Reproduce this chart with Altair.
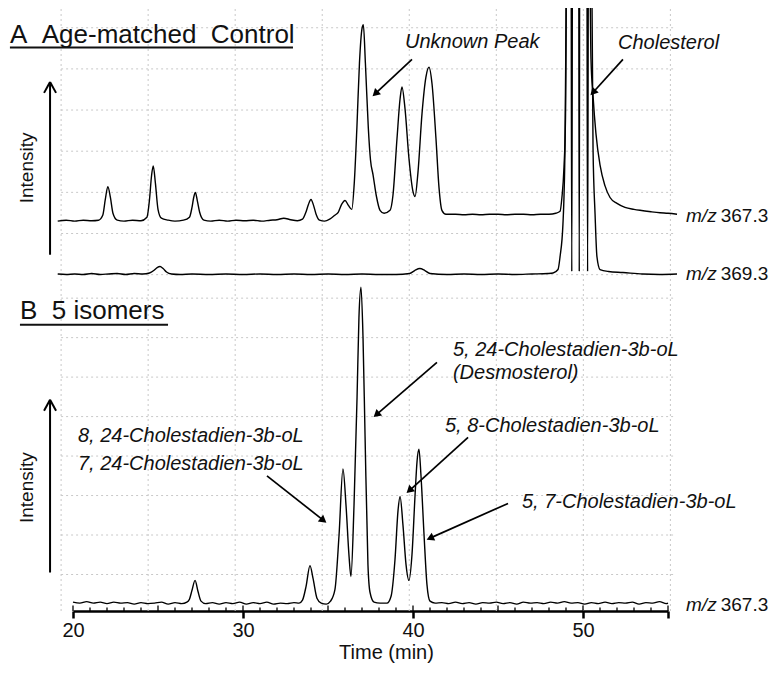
import math
import altair as alt
import pandas as pd

# ---------------- data ----------------
# (retention time in min, intensity above the trace's own baseline, a.u.)
A_367 = [(19.1,0),(19.6,1),(20.1,0),(20.6,1),(21.1,0.5),(21.5,1),(21.75,6),(21.9,22),(22.05,35),(22.2,24),
         (22.35,8),(22.6,1),(23.0,0),(23.5,1),(24.0,0.5),(24.35,4),(24.5,22),(24.62,46),(24.72,56),(24.85,38),
         (25.0,12),(25.2,3),(25.6,1),(26.0,0),(26.5,1),(26.85,4),(27.0,14),(27.1,24),(27.2,29),(27.32,20),
         (27.45,9),(27.7,1),(28.1,0),(28.6,1),(29.1,0),(29.6,1),(30.1,0.5),(30.6,1),(31.1,0),(31.6,1),
         (32.0,1.5),(32.4,3),(32.8,1.5),(33.2,0.5),(33.5,2),(33.7,9),(33.85,17),(34.0,22),(34.15,16),(34.3,7),
         (34.5,1),(34.8,0),(35.1,2),(35.4,6),(35.6,9),(35.8,17),(36.0,21),(36.2,16),(36.4,12),(36.55,40),
         (36.7,95),(36.85,160),(37.0,195),(37.08,199),(37.2,160),(37.37,95),(37.5,62),(37.65,47),(37.85,25),
         (38.06,11),(38.3,8),(38.65,11),(38.82,26),(39.06,84),(39.24,124),(39.35,136),(39.53,114),(39.76,64),
         (40.0,30),(40.12,25),(40.29,49),(40.53,109),(40.76,146),(40.94,156),(41.12,139),(41.35,84),(41.53,34),
         (41.7,11),(41.94,7),(42.5,7),(43.0,6.5),(43.5,7),(44.0,6.5),(44.5,7),(45.0,7),(45.5,6.5),(46.0,7),
         (46.5,7),(47.0,6.5),(47.5,7),(48.0,7),(48.4,8),(48.65,10),(48.76,24),(48.88,54),(48.97,104),
         (49.06,330),(50.35,330),(50.47,164),(50.59,127),(50.76,89),(51.0,57),(51.29,36),(51.59,24),(52.0,18),
         (52.47,14),(53.0,12),(53.35,11),(54.0,9.5),(54.53,8.5),(55.0,8),(55.53,7)]

A_369 = [(19.1,0.5),(19.6,0),(20.1,0.5),(20.6,0),(21.1,1),(21.6,0),(22.1,0.5),(22.6,1),(23.1,0),(23.6,1),
         (24.1,0.5),(24.5,1.5),(24.75,4),(24.95,7),(25.12,8),(25.3,6),(25.5,2.5),(25.8,0.5),(26.3,0),(27.0,0.5),
         (28.0,0),(29.0,0.5),(30.0,0),(31.0,0.5),(32.0,0),(33.0,0.5),(34.0,0),(35.0,0.5),(36.0,0),(37.0,0.5),
         (38.0,0),(39.0,0),(39.8,1),(40.1,4),(40.4,6),(40.7,4),(41.0,1),(42.0,0),(43.0,0.5),(44.0,0),
         (45.0,0.5),(46.0,0),(47.0,0.5),(47.94,1),(48.24,1.5),(48.53,5),(48.65,18),(48.82,51),(48.94,128),
         (49.0,250),(49.05,400),(49.29,400),(49.34,3),(49.39,400),(49.74,400),(49.78,3),(49.81,400),
         (50.22,400),(50.27,3),(50.33,400),(50.47,400),(50.59,128),(50.71,61),(50.82,18),(51.0,5),(51.5,3),
         (52.35,2),(53.5,0.5),(54.5,0),(55.53,0.5)]

B_367 = [(20.0,2),(20.4,1),(20.8,2.5),(21.2,1),(21.6,2),(22.0,0.5),(22.4,2),(22.8,1),(23.2,1.5),(23.6,0),
         (24.0,1.5),(24.4,0.5),(24.8,1),(25.2,2),(25.6,0),(26.0,1.5),(26.4,0.5),(26.7,2),(26.85,5),(27.0,14),
         (27.18,24),(27.35,13),(27.53,3),(27.8,0.5),(28.2,1.5),(28.6,0),(29.0,1.5),(29.4,0.5),(29.8,2),(30.2,0),
         (30.6,1.5),(31.0,0.5),(31.4,2),(31.8,0),(32.2,1),(32.6,0.5),(33.0,1.5),(33.3,1),(33.5,4),(33.71,18),
         (33.94,39),(34.12,26),(34.35,6),(34.6,1),(34.9,0),(35.15,3),(35.41,15),(35.65,70),(35.88,137),
         (36.06,100),(36.24,48),(36.35,28),(36.53,100),(36.71,210),(36.82,290),(36.94,321),(37.06,270),
         (37.18,170),(37.35,40),(37.47,12),(37.71,2),(38.06,1),(38.47,1),(38.71,8),(38.94,45),(39.12,95),
         (39.24,109),(39.41,80),(39.59,40),(39.76,24),(39.94,50),(40.12,110),(40.24,145),(40.35,157),
         (40.47,130),(40.65,70),(40.82,20),(41.0,3),(41.3,1),(41.7,1.5),(42.1,0.5),(42.5,2),(42.9,0.5),
         (43.3,1.5),(43.7,0),(44.1,1.5),(44.5,1),(44.9,2),(45.3,0.5),(45.7,1.5),(46.1,0),(46.5,2),(46.9,1),
         (47.3,1.5),(47.7,0.5),(48.1,2),(48.5,1),(48.9,2.5),(49.3,1),(49.7,1.5),(50.1,0),(50.5,1.5),
         (50.9,0.5),(51.3,2),(51.7,0.5),(52.1,1.5),(52.5,1),(52.9,2),(53.3,0),(53.7,1.5),(54.1,1),(54.5,2.5),
         (54.9,0.5),(55.0,1)]

TRACES = {"A m/z 367.3": A_367, "A m/z 369.3": A_369, "B m/z 367.3": B_367}
TRACE_LABELS = ["367.3", "369.3", "367.3"]
TICK_VALUES = [20, 30, 40, 50, 55]
X_TITLE = "Time (min)"
PANEL_TITLES = ["A\u00a0\u00a0Age-matched\u00a0\u00a0Control", "B\u00a0\u00a05 isomers"]
PEAK_NAMES_A = ["Unknown Peak", "Cholesterol"]
PEAK_NAMES_B = ["5, 24-Cholestadien-3b-oL", "(Desmosterol)", "5, 8-Cholestadien-3b-oL",
                "8, 24-Cholestadien-3b-oL", "7, 24-Cholestadien-3b-oL", "5, 7-Cholestadien-3b-oL"]
Y_LABEL = "Intensity"

# ---------------- layout (positions, sizes, styles) ----------------
W, H = 595, 603
X_DOM = [20, 55]
Y_DOM = [0, 611]
PX_MIN = W / (X_DOM[1] - X_DOM[0])
PX_UNIT = H / (Y_DOM[1] - Y_DOM[0])
OFFSETS = {"A m/z 367.3": 395, "A m/z 369.3": 341, "B m/z 367.3": 7}
FONT = "Liberation Sans"
INK = "#111111"

xs = alt.Scale(domain=X_DOM, nice=False, zero=False)
ys = alt.Scale(domain=Y_DOM, nice=False, zero=False)

AXIS = alt.Axis(values=TICK_VALUES, labelExpr="datum.value == 55 ? '' : datum.label",
                title=X_TITLE, grid=False, tickSize=7, tickWidth=2.5, tickColor="black",
                domain=True, domainWidth=2.5, domainColor="black", labelFont=FONT, labelFontSize=20,
                labelColor=INK, labelPadding=2, labelFlush=False, titleFont=FONT,
                titleFontSize=20, titleFontWeight="normal", titleColor=INK,
                titleX=313, titleY=31, titleBaseline="top", titleAlign="center")


def X(f):
    return alt.X(f, type="quantitative", scale=xs, axis=AXIS)


def Y(f):
    return alt.Y(f, type="quantitative", scale=ys, axis=None)


rows = []
for name, pairs in TRACES.items():
    for t, i in pairs:
        rows.append({"trace": name, "time": t, "level": i + OFFSETS[name]})
trace_df = pd.DataFrame(rows)

# background dotted grid
gh = [591 - 41.7 * k for k in range(7)] + [317 - 40 * k for k in range(8)]
grid_h = pd.DataFrame({"v": gh, "t0": 19.3, "t1": 55.3})
grid_v = pd.DataFrame({"t": [19.3 + 5.12 * k for k in range(8)], "v0": 0, "v1": 611})
grid_style = dict(color="#c8c8c8", strokeWidth=1, strokeDash=[2, 3])
l_gh = alt.Chart(grid_h).mark_rule(**grid_style).encode(x=X("t0"), x2="t1", y=Y("v"))
l_gv = alt.Chart(grid_v).mark_rule(**grid_style).encode(x=X("t"), y=Y("v0"), y2="v1")

# minor ticks (every minute, inside)
minor = pd.DataFrame({"t": list(range(20, 56)), "v0": 0.0})
minor["v1"] = [5.5 if t % 5 == 0 else 3.5 for t in minor["t"]]
l_minor = alt.Chart(minor).mark_rule(color="black", strokeWidth=1.3).encode(x=X("t"), y=Y("v0"), y2="v1")

l_trace = alt.Chart(trace_df).mark_line(color="black", strokeWidth=1.4, interpolate="monotone").encode(
    x=X("time"), y=Y("level"), detail="trace:N")

# annotation arrows (start -> tip, in time / level units)
ARROWS = [(39.94, 559, 37.59, 521), (52.35, 559, 50.41, 522),
          (41.41, 252, 37.65, 196), (43.24, 176, 39.59, 119),
          (45.59, 109, 40.76, 72), (31.41, 137, 34.94, 89)]
arr = []
for t0, v0, t1, v1 in ARROWS:
    dx = (t1 - t0) * PX_MIN
    dy = -(v1 - v0) * PX_UNIT
    ln = math.hypot(dx, dy)
    ux, uy = dx / ln, dy / ln
    back = 4.5
    tc = t1 - back * ux / PX_MIN
    vc = v1 + back * uy / PX_UNIT
    ang = math.degrees(math.atan2(dx, -dy)) % 360
    arr.append({"t0": t0, "v0": v0, "tc": tc, "vc": vc, "angle": ang})
arr_df = pd.DataFrame(arr)
l_shaft = alt.Chart(arr_df).mark_rule(color="black", strokeWidth=1.7).encode(
    x=X("t0"), y=Y("v0"), x2="tc", y2="vc")
l_head = alt.Chart(arr_df).mark_point(shape="triangle-up", filled=True, size=75, color="black",
                                       opacity=1).encode(
    x=X("tc"), y=Y("vc"), angle=alt.Angle("angle:Q", scale=None))

# italic peak labels
pos_a = [(39.53, 577), (52.06, 576)]
pos_b = [(42.35, 264), (42.35, 241), (41.88, 187), (20.29, 177), (20.29, 149), (46.41, 110)]
lab = [{"t": p[0], "v": p[1], "text": s} for s, p in zip(PEAK_NAMES_A + PEAK_NAMES_B, pos_a + pos_b)]
l_lab = alt.Chart(pd.DataFrame(lab)).mark_text(
    align="left", baseline="middle", font=FONT, fontSize=20, fontStyle="italic", color=INK).encode(
    x=X("t"), y=Y("v"), text="text:N")

# m/z labels at trace ends
mz_v = [400, 341, 6]
mz1 = pd.DataFrame({"t": 56.06, "v": mz_v, "text": "m/z"})
mz2 = pd.DataFrame({"t": 58.1, "v": mz_v, "text": TRACE_LABELS})
l_mz1 = alt.Chart(mz1).mark_text(align="left", baseline="middle", font=FONT, fontSize=19,
                                 fontStyle="italic", color=INK).encode(x=X("t"), y=Y("v"), text="text:N")
l_mz2 = alt.Chart(mz2).mark_text(align="left", baseline="middle", font=FONT, fontSize=19,
                                 color=INK).encode(x=X("t"), y=Y("v"), text="text:N")

# panel titles with underline
titles = pd.DataFrame({"t": [16.29, 16.88], "v": [576, 296], "text": PANEL_TITLES})
l_title = alt.Chart(titles).mark_text(align="left", baseline="alphabetic", font=FONT, fontSize=26,
                                      color=INK).encode(x=X("t"), y=Y("v"), text="text:N")
ul = pd.DataFrame({"t0": [16.29, 16.88], "t1": [32.94, 25.59], "v": [571, 290]})
l_ul = alt.Chart(ul).mark_rule(color=INK, strokeWidth=2).encode(x=X("t0"), x2="t1", y=Y("v"))

# Intensity labels with upward arrows
ity = pd.DataFrame({"t": 17.29, "v": [449, 125], "text": Y_LABEL})
l_ity = alt.Chart(ity).mark_text(angle=270, align="center", baseline="middle", font=FONT, fontSize=19,
                                 color=INK).encode(x=X("t"), y=Y("v"), text="text:N")
ax_t = 18.65
up = pd.DataFrame({"t": ax_t, "v0": [361, 39], "v1": [536, 214]})
l_up = alt.Chart(up).mark_rule(color="black", strokeWidth=2).encode(x=X("t"), y=Y("v0"), y2="v1")
chev = []
for tip in [536, 214]:
    for side in (-1, 1):
        chev.append({"t0": ax_t + side * 6 / PX_MIN, "v0": tip - 11, "t1": ax_t, "v1": tip})
l_chev = alt.Chart(pd.DataFrame(chev)).mark_rule(color="black", strokeWidth=2).encode(
    x=X("t0"), y=Y("v0"), x2="t1", y2="v1")

chart = alt.layer(
    l_gh, l_gv, l_minor, l_trace, l_shaft, l_head, l_lab, l_mz1, l_mz2,
    l_title, l_ul, l_ity, l_up, l_chev
).properties(
    width=W, height=H,
    autosize=alt.AutoSizeParams(type="none"),
    padding={"left": 65, "top": 0, "right": 105, "bottom": 52},
    background="white",
).configure_view(stroke=None)

chart.save("out.html", embed_options={"renderer": "svg", "actions": False})
